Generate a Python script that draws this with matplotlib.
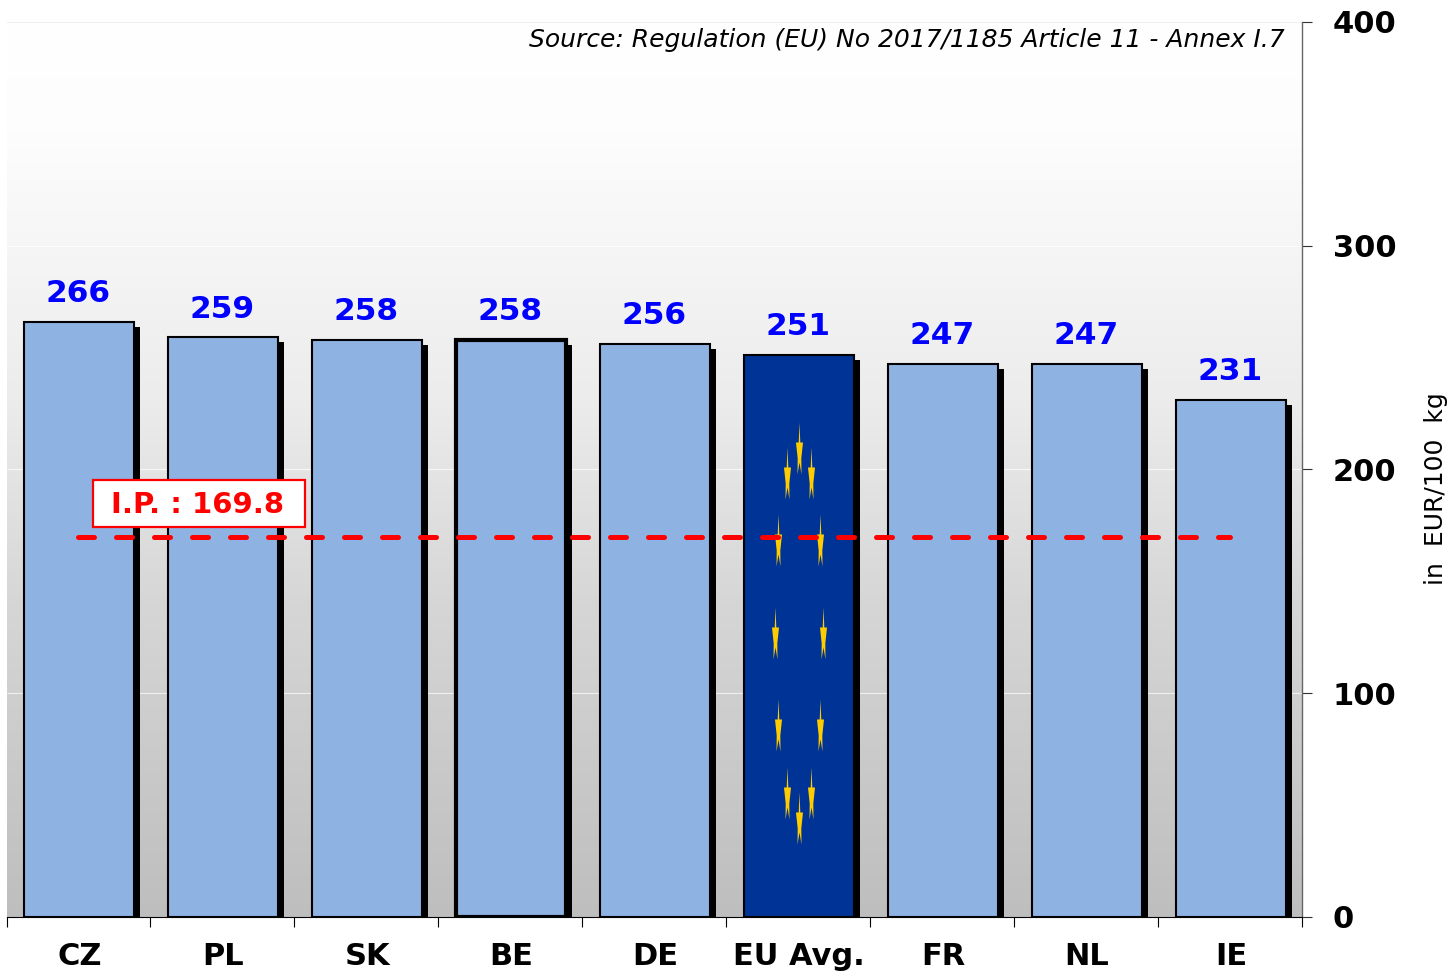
import numpy as np
import matplotlib
matplotlib.use("Agg")
import matplotlib.pyplot as plt
from matplotlib.colors import LinearSegmentedColormap
from matplotlib.patches import Rectangle
from matplotlib.path import Path

# --- data ---
paises = ["CZ", "PL", "SK", "BE", "DE", "EU Avg.", "FR", "NL", "IE"]
valores = [266, 259, 258, 258, 256, 251, 247, 247, 231]
ip_valor = 169.8
y_ticks = [0, 100, 200, 300, 400]
fuente = "Source: Regulation (EU) No 2017/1185 Article 11 - Annex I.7"

AZUL = "#8eb2e2"
AZUL_UE = "#003396"
AMARILLO = "#ffcc00"

plt.rcParams["font.family"] = ["DejaVu Sans"]

fig = plt.figure(figsize=(14.55, 9.76), dpi=100)
ax = fig.add_axes([6.5 / 1455, 59 / 976, 1295.5 / 1455, 895 / 976])
x = np.arange(len(paises))

# background gradient, white on top and grey at the bottom
cmap = LinearSegmentedColormap.from_list(
    "fondo", [(0, "#ffffff"), (0.12, "#fdfdfd"), (0.42, "#ececec"), (0.65, "#d6d6d6"), (1, "#bebebe")]
)
ax.imshow(
    np.linspace(0, 1, 256).reshape(-1, 1),
    cmap=cmap,
    aspect="auto",
    extent=(-0.5, 8.5, 0, 400),
    origin="upper",
    zorder=0,
)
ax.hlines([100, 200, 300], -0.5, 8.5, color="white", linewidth=0.8, alpha=0.7, zorder=1)
ax.axhline(400, color="#eeeeee", linewidth=0.8, zorder=1)

# shadows, then the bars
ajuste = 1 / 144
sombra_x = 5.5 / 144
sombra_y = 5 / 2.2375
ax.bar(x + ajuste + sombra_x, np.array(valores) - sombra_y, width=110 / 144, color="black", zorder=2)
colores = [AZUL_UE if p == "EU Avg." else AZUL for p in paises]
grosor = [3.0 if p == "BE" else 1.5 for p in paises]
ax.bar(x + ajuste, valores, width=110 / 144, color=colores, edgecolor="black", linewidth=grosor, zorder=3)

# value labels
for xi, v in zip(x, valores):
    ax.annotate(
        str(v), (xi, v), xytext=(0, 20.5), textcoords="offset points",
        ha="center", va="center", color="#0000ff", fontsize=22.5, fontweight="bold", zorder=6,
    )

# EU flag stars on the average bar, an ellipse of 12
estrella = Path(
    [(0, 26), (0.8, 6), (3.5, 6), (1.8, -10), (2, -26), (0, -14), (-2, -26), (-1.8, -10), (-3.5, 6), (-0.8, 6), (0, 26)],
    closed=True,
)
idx_ue = paises.index("EU Avg.")
angulos = np.deg2rad(np.arange(0, 360, 30))
ax.plot(
    idx_ue + ajuste + 24 / 144 * np.sin(angulos),
    127 + 82.7 * np.cos(angulos),
    linestyle="none",
    marker=estrella,
    markersize=37.5,
    markerfacecolor=AMARILLO,
    markeredgewidth=0,
    zorder=4,
)

# intervention price line and box
ax.plot(
    [x[0], x[-1]], [ip_valor, ip_valor],
    color="#ff0000", linewidth=3.6, dashes=(3.2, 4.4), dash_capstyle="round", zorder=5,
)
ax.add_patch(
    Rectangle((0.84 - 106 / 144, 174.1), 212 / 144, 21, facecolor="white", edgecolor="#ff0000", linewidth=1.6, zorder=6)
)
ax.text(
    0.83, 184.3, f"I.P. : {ip_valor}", ha="center", va="center",
    color="#ff0000", fontsize=21, fontweight="bold", zorder=7,
)

ax.text(
    (1285 - 6.5) / 1295.5, 0.98, fuente, transform=ax.transAxes,
    ha="right", va="center", fontsize=18, fontstyle="italic", color="black", zorder=7,
)

# axes
ax.set_xlim(-0.5, 8.5)
ax.set_ylim(0, 400)
ax.yaxis.tick_right()
ax.set_yticks(y_ticks)
ax.tick_params(axis="y", length=7.2, width=0.8, pad=15, labelsize=22, color="#333333")
for t in ax.get_yticklabels():
    t.set_fontweight("bold")
ax.set_xticks(x + ajuste, labels=paises)
ax.set_xticks(np.arange(-0.5, 9, 1), minor=True)
ax.tick_params(axis="x", which="major", length=0, pad=18, labelsize=22)
ax.tick_params(axis="x", which="minor", length=7.2, width=0.8)
for t in ax.get_xticklabels():
    t.set_fontweight("bold")

ax.spines["top"].set_visible(False)
ax.spines["left"].set_visible(False)
ax.spines["right"].set_color("#666666")
ax.spines["right"].set_linewidth(1.0)
ax.spines["bottom"].set_color("black")
ax.spines["bottom"].set_linewidth(0.8)

ax.yaxis.set_label_position("right")
ax.set_ylabel("in  EUR/100  kg", fontsize=18, rotation=90)
ax.yaxis.set_label_coords(1.0945, 0.479)

fig.savefig("out.png", dpi=100)
